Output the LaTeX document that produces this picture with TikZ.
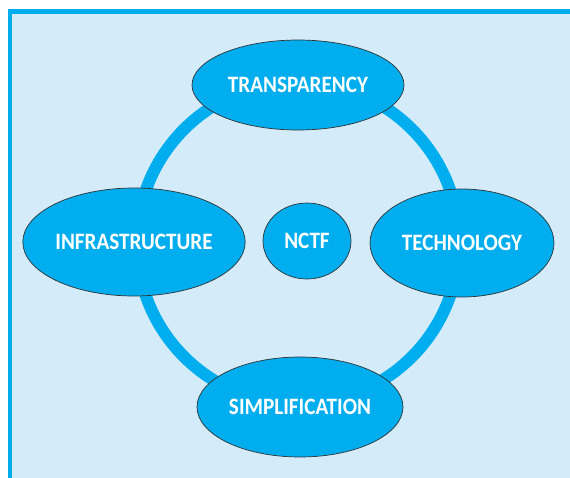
\documentclass[tikz,border=0pt]{standalone}
\usepackage{fontspec}
\setmainfont{Carlito}[FakeStretch=0.9]
\usetikzlibrary{shapes.geometric}
\definecolor{ringblue}{HTML}{00AEEF}
\definecolor{paleblue}{HTML}{D4ECF9}

\begin{document}
\begin{tikzpicture}[x=1pt, y=-1pt,
		bubble/.style={draw=black!80, line width=0.7pt, fill=ringblue, ellipse, inner sep=0pt, text=white, font=\bfseries\fontsize{23.5}{23.5}\selectfont}]
			\useasboundingbox (0,0) rectangle (570,477);
			\clip (0,0) rectangle (570,477);
			\fill[white] (0,0) rectangle (570,477);
			\draw[ringblue, line width=4.5pt, fill=paleblue] (10,11.5) rectangle (590,495);
			
			\coordinate (hub) at (298,243);
			\draw[ringblue, line width=12pt] (hub) circle (161pt);
			
			\node[bubble, minimum width=212pt, minimum height=90pt] (trans) at (298,85) {TRANSPARENCY};
			\node[bubble, minimum width=222pt, minimum height=108pt] (infra) at (134,242) {INFRASTRUCTURE};
			\node[bubble, minimum width=88pt, minimum height=76pt] (nctf) at (307,241) {NCTF};
			\node[bubble, minimum width=184pt, minimum height=108pt] (tech) at (462,243) {TECHNOLOGY};
			\node[bubble, minimum width=206pt, minimum height=100pt] (simpl) at (300,407) {SIMPLIFICATION};

		\end{tikzpicture}
\end{document}
